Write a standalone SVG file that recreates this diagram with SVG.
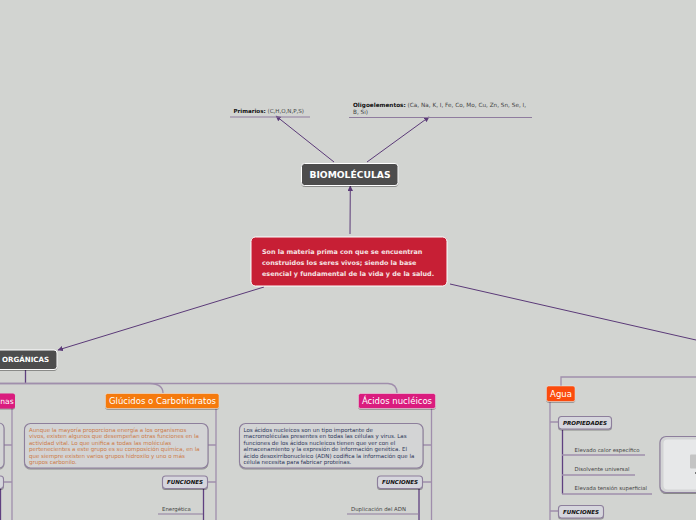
<svg xmlns="http://www.w3.org/2000/svg" width="696" height="520" viewBox="0 0 696 520">
<defs>
<marker id="a" markerWidth="6" markerHeight="6" refX="5" refY="2.750" orient="auto" markerUnits="userSpaceOnUse"><path d="M0,0L5.500,2.750L0,5.500z" fill="#5b3a78"/></marker>
<filter id="s" x="-10%" y="-10%" width="120%" height="130%"><feDropShadow dx="0" dy="1" stdDeviation="0.7" flood-color="#000" flood-opacity="0.35"/></filter>
</defs>
<style>
text{font-family:"DejaVu Sans",Verdana,sans-serif}
.c{fill:none;stroke:#5b3a78;stroke-width:1}
.t{fill:none;stroke:#a08eac;stroke-width:1.300}
.d{fill:none;stroke:#5f4080;stroke-width:1.300}
.l{stroke:#8f7c9e;stroke-width:1}
.dark{fill:#4d4d4d;stroke:#fff;stroke-width:1;filter:url(#s)}
.f{fill:#d6d6dd;stroke:#8d7f9c;stroke-width:1.100;filter:url(#s)}
.ft{font-size:5.500px;font-weight:700;font-style:italic;fill:#111;text-anchor:middle}
.lf{font-size:5.400px;fill:#444}
.para{font-size:5.500px}
.big{font-size:8.500px;fill:#fff;text-anchor:middle}
.box{fill:#d3d4d5;stroke:#8d7f9c;stroke-width:1.100;filter:url(#s)}
</style>
<rect width="696" height="520" fill="#d2d4d1"/>
<g id="connectors">
<path class="c" marker-end="url(#a)" d="M334,162L276,116"/>
<path class="c" marker-end="url(#a)" d="M367,162L429,117"/>
<path class="c" marker-end="url(#a)" d="M350,234L350.300,186"/>
<path class="c" marker-end="url(#a)" d="M264,287L58,350"/>
<path class="c" d="M450,284L696,340"/>
<path class="d" d="M25.500,370V383"/>
<path class="t" d="M0,383.500H388Q397,384 397,393"/>
<path class="t" d="M0,383.500H150Q163,384 163,393"/>
<path class="t" d="M561,387V377H696"/>
<path class="t" d="M12,408V520"/>
<path class="t" d="M216,408V520"/>
<path class="t" d="M431.500,408V520"/>
<path class="t" d="M550,402V520"/>
<path class="t" d="M4,445H12M4,482H12M208,445H216M208,482H216M423,445H431.500M423,482H431.500M550,422H558M550,511H558"/>
<path class="d" d="M0.500,489V520M203.500,489V520M419,489V520M562.500,430V494"/>
<path class="t" d="M562,455H645M562,475H635M562,494H652"/>
<path class="l" fill="none" d="M158,514H203M347,514H419M230,117H310M349,117.500H532"/>
</g>
<g id="primarios">
<text x="233.500" y="113" font-size="5.550" fill="#444"><tspan font-weight="700" fill="#111">Primarios:</tspan> (C,H,O,N,P,S)</text>
</g>
<g id="oligoelementos">
<text font-size="5.730" fill="#444"><tspan x="353" y="106.500"><tspan font-weight="700" fill="#111">Oligoelementos:</tspan> (Ca, Na, K, I, Fe, Co, Mo, Cu, Zn, Sn, Se, I,</tspan><tspan x="353" y="113.500">B, Si)</tspan></text>
</g>
<g id="biomoleculas">
<rect class="dark" x="301.500" y="163.500" width="96.500" height="22" rx="3"/>
<text x="350" y="178" font-size="9.200" font-weight="700" fill="#fff" text-anchor="middle">BIOMOLÉCULAS</text>
</g>
<g id="definicion">
<rect x="251" y="237" width="196" height="49" rx="4.500" fill="#c71f35" stroke="#fff" stroke-width="1"/>
<g font-size="6.420" font-weight="700" fill="#f5e4e4"><text x="262" y="254">Son la materia prima con que se encuentran</text><text x="262" y="265">construidos los seres vivos; siendo la base</text><text x="262" y="276">esencial y fundamental de la vida y de la salud.</text></g>
</g>
<g id="organicas">
<rect class="dark" x="-30" y="350" width="87" height="19.500" rx="3"/>
<text x="25.500" y="362" font-size="7.100" font-weight="700" fill="#fff" text-anchor="middle">ORGÁNICAS</text>
</g>
<g id="proteinas">
<rect x="-40" y="393.500" width="55" height="15" rx="2" fill="#da1b7e" filter="url(#s)"/>
<text x="0.300" y="404" font-size="7.600" fill="#fff">nas</text>
<rect class="box" x="-40" y="423" width="44" height="45" rx="5"/>
<rect class="f" x="-30" y="476" width="33.500" height="12.500" rx="3"/>
</g>
<g id="glucidos">
<rect x="105.500" y="393.500" width="113.500" height="15" rx="2" fill="#f57a0c" stroke="#eee" stroke-width=".5" filter="url(#s)"/>
<text x="162.500" y="404" class="big">Glúcidos o Carbohidratos</text>
<rect class="box" x="24.500" y="423.500" width="183.500" height="44.500" rx="6"/>
<g class="para" fill="#cd7a45"><text x="29" y="431.500">Aunque la mayoría proporciona energía a los organismos</text><text x="29" y="438">vivos, existen algunos que desempeñan otras funciones en la</text><text x="29" y="444.500">actividad vital. Lo que unifica a todas las moléculas</text><text x="29" y="451">pertenecientes a este grupo es su composición química, en la</text><text x="29" y="457.500">que siempre existen varios grupos hidroxilo y uno o más</text><text x="29" y="464">grupos carbonilo.</text></g>
<rect class="f" x="162.500" y="476" width="45" height="12.500" rx="3"/>
<text x="185" y="484" class="ft">FUNCIONES</text>
<text x="162" y="511" class="lf">Energética</text>
</g>
<g id="acidos">
<rect x="358.500" y="393.500" width="77" height="15" rx="2" fill="#da1b7e" stroke="#eee" stroke-width=".5" filter="url(#s)"/>
<text x="397" y="404" class="big">Ácidos nucléicos</text>
<rect class="box" x="239.500" y="423.500" width="183.500" height="44.500" rx="6"/>
<g class="para" fill="#2c3659"><text x="243.500" y="431.500">Los ácidos nucleicos son un tipo importante de</text><text x="243.500" y="438">macromoléculas presentes en todas las células y virus. Las</text><text x="243.500" y="444.500">funciones de los ácidos nucleicos tienen que ver con el</text><text x="243.500" y="451">almacenamiento y la expresión de información genética. El</text><text x="243.500" y="457.500">ácido desoxirribonucleico (ADN) codifica la información que la</text><text x="243.500" y="464">célula necesita para fabricar proteínas.</text></g>
<rect class="f" x="377.500" y="476" width="45" height="12.500" rx="3"/>
<text x="400" y="484" class="ft">FUNCIONES</text>
<text x="351" y="511" class="lf">Duplicación del ADN</text>
</g>
<g id="agua">
<rect x="546.500" y="386" width="28.500" height="15.500" rx="2" fill="#fb4b09" stroke="#eee" stroke-width=".5" filter="url(#s)"/>
<text x="561" y="397" class="big">Agua</text>
<rect class="f" x="558.500" y="416.500" width="53" height="12.500" rx="3"/>
<text x="585" y="425" class="ft">PROPIEDADES</text>
<text x="574.500" y="451.500" class="lf">Elevado calor específico</text>
<text x="574.500" y="471" class="lf">Disolvente universal</text>
<text x="574.500" y="490" class="lf">Elevada tensión superficial</text>
<rect class="f" x="558.500" y="505.500" width="45" height="12.500" rx="3"/>
<text x="581" y="514" class="ft">FUNCIONES</text>
</g>
<g id="imagen">
<rect class="box" x="660" y="436.500" width="50" height="56" rx="6"/>
<rect x="663.500" y="439.500" width="45" height="50" rx="4" fill="#e7e8e9"/>
<rect x="690" y="454.500" width="12" height="14" rx="1" fill="#c4c4c4"/>
<rect x="695" y="472" width="1" height="2" fill="#777"/>
</g>
</svg>
